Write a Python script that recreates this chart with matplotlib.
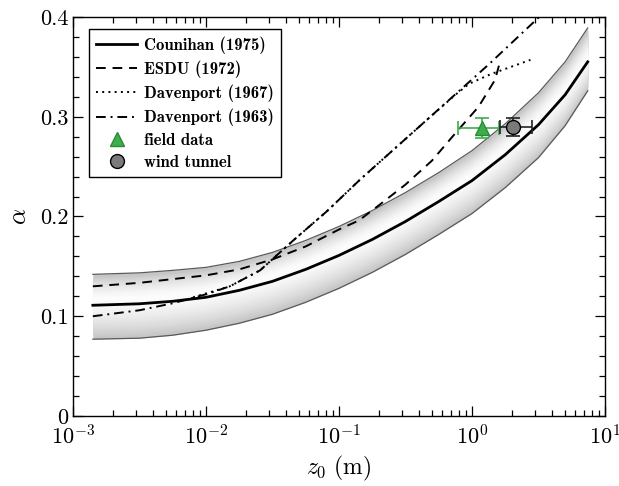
import matplotlib
matplotlib.use("Agg")
import matplotlib.pyplot as plt
import numpy as np
from matplotlib.lines import Line2D
from matplotlib.ticker import FixedLocator, FixedFormatter, LogLocator, NullFormatter

plt.rcParams['font.family'] = 'serif'
plt.rcParams['font.serif'] = ['cmr10']
plt.rcParams['mathtext.fontset'] = 'cm'
plt.rcParams['axes.formatter.use_mathtext'] = True

# Counihan (1975) band: centre line and envelope
z_band = [0.00141, 0.00316, 0.00562, 0.01, 0.0178, 0.0316, 0.0562, 0.1, 0.178,
          0.316, 0.562, 1.0, 1.78, 3.16, 5.01, 7.41]
alpha_mid = [0.111, 0.1125, 0.115, 0.119, 0.126, 0.135, 0.147, 0.161, 0.177,
             0.195, 0.215, 0.236, 0.262, 0.292, 0.322, 0.355]
alpha_hi = [0.142, 0.1435, 0.146, 0.149, 0.155, 0.164, 0.176, 0.190, 0.206,
            0.224, 0.244, 0.266, 0.293, 0.324, 0.355, 0.389]
alpha_lo = [0.077, 0.078, 0.081, 0.086, 0.093, 0.102, 0.114, 0.128, 0.144,
            0.162, 0.182, 0.203, 0.229, 0.259, 0.291, 0.326]

# ESDU (1972)
z_esdu = [0.00141, 0.00316, 0.01, 0.0178, 0.0316, 0.0562, 0.1, 0.141, 0.203,
          0.316, 0.5, 0.767, 1.12, 1.49, 1.6]
alpha_esdu = [0.130, 0.1335, 0.141, 0.147, 0.157, 0.170, 0.187, 0.196, 0.212,
              0.232, 0.256, 0.285, 0.310, 0.337, 0.352]

# Davenport (1963)
z_dav63 = [0.00141, 0.00316, 0.00562, 0.01, 0.0151, 0.0255, 0.0453, 0.0807, 0.144,
           0.45, 1.35, 3.2]
alpha_dav63 = [0.100, 0.106, 0.113, 0.122, 0.130, 0.146, 0.176, 0.205, 0.237,
               0.296, 0.353, 0.400]

# Davenport (1967)
z_dav67 = [0.008, 0.0151, 0.0255, 0.0453, 0.0807, 0.144, 0.45, 0.75, 0.95, 1.4, 2.75]
alpha_dav67 = [0.119, 0.130, 0.146, 0.176, 0.205, 0.237, 0.296, 0.322, 0.333, 0.343, 0.357]

# measurements: value, x-range, y error
field_z, field_alpha = 1.18, 0.289
field_zlo, field_zhi, field_err = 0.79, 1.60, 0.010
tunnel_z, tunnel_alpha = 2.05, 0.290
tunnel_zlo, tunnel_zhi, tunnel_err = 1.63, 2.81, 0.009

ytick_vals = [0, 0.1, 0.2, 0.3, 0.4]
ytick_labels = ['0', '0.1', '0.2', '0.3', '0.4']

fig = plt.figure(figsize=(6.19, 4.86), dpi=100)
ax = fig.add_axes([73 / 619, 70 / 486, 532 / 619, 399 / 486])
ax.set_xscale('log')

lo = np.array(alpha_lo)
mid = np.array(alpha_mid)
hi = np.array(alpha_hi)

# shaded band, lighter towards the centre line
ax.fill_between(z_band, lo, hi, color='#c6c6c6', lw=0, zorder=1)
n_layers = 24
for k in range(1, n_layers):
    f = 1 - k / n_layers
    g = 0.78 + 0.21 * (1 - f ** 1.6)
    ax.fill_between(z_band, mid - f * (mid - lo) * 0.95 + 0.006 * (1 - f),
                    mid + f * (hi - mid) * 0.95 + 0.006 * (1 - f),
                    color=(g, g, g), lw=0, zorder=1)
ax.plot(z_band, hi, color='#5a5a5a', lw=0.9, zorder=2)
ax.plot(z_band, lo, color='#5a5a5a', lw=0.9, zorder=2)

ax.plot(z_band, alpha_mid, color='black', lw=2.0, ls='-', label='Counihan (1975)', zorder=3)
ax.plot(z_esdu, alpha_esdu, color='black', lw=1.4, ls=(0, (5, 3.5)), label='ESDU (1972)', zorder=3)
ax.plot(z_dav67, alpha_dav67, color='black', lw=1.4, ls=(0, (1, 2.2)), label='Davenport (1967)', zorder=3)
ax.plot(z_dav63, alpha_dav63, color='black', lw=1.4, ls=(0, (5, 2.5, 1, 2.5)), label='Davenport (1963)', zorder=3)

ax.errorbar([field_z], [field_alpha],
            xerr=[[field_z - field_zlo], [field_zhi - field_z]], yerr=[[field_err], [field_err]],
            fmt='^', ms=10, mfc='#3cae4a', mec='#2a8a35', ecolor='#3cae4a',
            elinewidth=1.2, capsize=5, capthick=1.2, zorder=5)
ax.errorbar([tunnel_z], [tunnel_alpha],
            xerr=[[tunnel_z - tunnel_zlo], [tunnel_zhi - tunnel_z]], yerr=[[tunnel_err], [tunnel_err]],
            fmt='o', ms=10, mfc='#7a7a7a', mec='black', ecolor='#222222',
            elinewidth=1.2, capsize=5, capthick=1.2, zorder=5)

ax.set_xlim(1e-3, 10)
ax.set_ylim(0, 0.4)
ax.yaxis.set_major_locator(FixedLocator(ytick_vals))
ax.yaxis.set_major_formatter(FixedFormatter(ytick_labels))
ax.yaxis.set_minor_locator(FixedLocator(np.arange(0, 0.401, 0.02)))
ax.xaxis.set_major_locator(LogLocator(base=10, numticks=10))
ax.xaxis.set_minor_locator(LogLocator(base=10, subs=np.arange(2, 10), numticks=20))
ax.xaxis.set_minor_formatter(NullFormatter())

ax.tick_params(which='both', direction='in', top=True, right=True, labelsize=16, width=0.9)
ax.tick_params(which='major', length=7)
ax.tick_params(which='minor', length=4.5)
ax.tick_params(axis='x', which='major', pad=6)
for s in ax.spines.values():
    s.set_linewidth(1.0)

ax.set_xlabel(r'$z_0\ \mathrm{(m)}$', fontsize=17, labelpad=4)
ax.set_ylabel(r'$\alpha$', fontsize=18, labelpad=6)

handles, labels = ax.get_legend_handles_labels()
handles += [Line2D([], [], ls='none', marker='^', ms=10, mfc='#3cae4a', mec='#2a8a35'),
            Line2D([], [], ls='none', marker='o', ms=10, mfc='#7a7a7a', mec='black')]
labels += ['field data', 'wind tunnel']
leg = ax.legend(handles, labels, loc='upper left', bbox_to_anchor=(0.030, 0.970),
                borderaxespad=0, prop={'family': 'cmb10', 'size': 12}, frameon=True,
                fancybox=False, edgecolor='black', framealpha=1, handlelength=2.45,
                labelspacing=0.4, borderpad=0.45, handletextpad=0.4)
leg.get_frame().set_linewidth(1.0)

fig.savefig('out.png', dpi=100)
